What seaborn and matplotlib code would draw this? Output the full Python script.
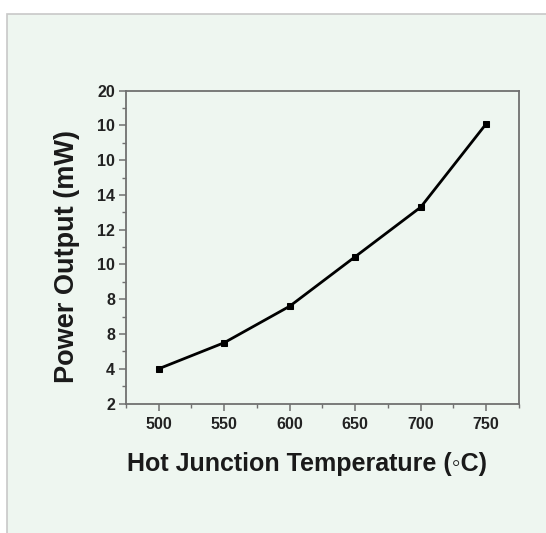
import matplotlib
matplotlib.use("Agg")
import matplotlib.pyplot as plt
import seaborn as sns
import pandas as pd
from matplotlib.patches import Rectangle
from matplotlib.ticker import MultipleLocator, FixedLocator

temperature = [500, 550, 600, 650, 700, 750]
power_mw = [4.0, 5.5, 7.6, 10.45, 13.3, 18.1]
x_ticks = [500, 550, 600, 650, 700, 750]
y_ticks = [2, 4, 6, 8, 10, 12, 14, 16, 18, 20]
y_tick_labels = ["2", "4", "8", "8", "10", "12", "14", "10", "10", "20"]

sns.set_style("ticks")
plt.rcParams['font.family'] = ['Liberation Sans', 'DejaVu Sans']

bg = "#eef6f0"
W, H = 546, 533
fig = plt.figure(figsize=(W / 100, H / 100), dpi=100, facecolor="white")
fig.patches.append(Rectangle((7 / W, -0.01), 1.02 - 7 / W, (H - 14) / H + 0.01,
                             transform=fig.transFigure, facecolor=bg,
                             edgecolor="#c8c8c8", linewidth=1.2, zorder=-10))

ax = fig.add_axes([126 / W, 1 - 403.5 / H, (519 - 126) / W, (403.5 - 90.7) / H])
ax.set_facecolor(bg)
ax.set_zorder(5)

df = pd.DataFrame({"T": temperature, "P": power_mw})
sns.lineplot(data=df, x="T", y="P", ax=ax, color="black", linewidth=2.0,
             marker="s", markersize=5, markeredgecolor="black")

ax.set_xlim(475, 775)
ax.set_ylim(2, 20)
ax.xaxis.set_major_locator(FixedLocator(x_ticks))
ax.xaxis.set_minor_locator(MultipleLocator(25))
ax.yaxis.set_major_locator(FixedLocator(y_ticks))
ax.yaxis.set_minor_locator(MultipleLocator(1))
ax.set_yticklabels(y_tick_labels)

spine_c = "#707070"
for s in ax.spines.values():
    s.set_visible(True)
    s.set_color(spine_c)
    s.set_linewidth(1.3)

ax.tick_params(which="major", direction="out", length=5, width=1.1, color=spine_c,
               labelsize=11.5, pad=5)
ax.tick_params(axis="y", which="major", pad=3)
ax.tick_params(which="minor", direction="out", length=3, width=1.0, color=spine_c)
for lab in ax.get_xticklabels() + ax.get_yticklabels():
    lab.set_fontweight("bold")
    lab.set_color("#222222")

ax.set_xlabel("Hot Junction Temperature (◦C)", fontsize=18, fontweight="bold",
              color="#1a1a1a")
ax.set_ylabel("Power Output (mW)", fontsize=19.5, fontweight="bold", color="#1a1a1a")
ax.xaxis.set_label_coords(0.46, -0.155)
ax.yaxis.set_label_coords(-0.117, 0.47)

fig.savefig("out.png", dpi=100, facecolor="white")
